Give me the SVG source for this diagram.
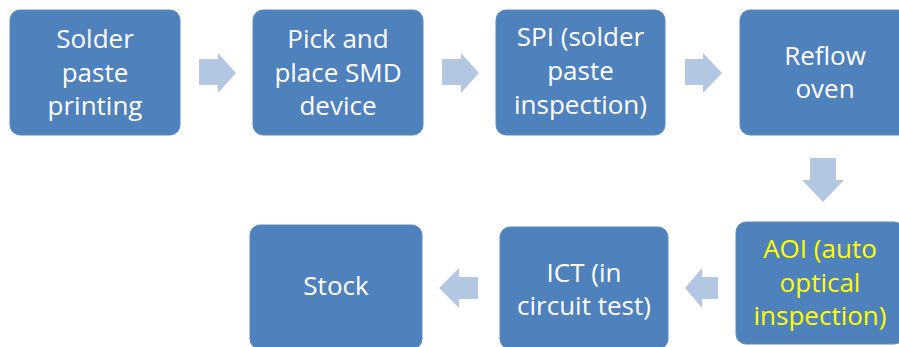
<svg xmlns="http://www.w3.org/2000/svg" width="899" height="347" viewBox="0 0 899 347">
  <style>
    .box { fill: #4F81BD; stroke: #5B8AC2; stroke-width: 1; }
    .lbl { font-family: "Open Sans", "Noto Sans", "Liberation Sans", sans-serif; font-size: 26px; fill: #FFFFFF; text-anchor: middle; }
    .hl { fill: #FFFF00; }
    .flow { fill: #B3C6E2; }
  </style>
  <rect width="899" height="347" fill="#FFFFFF"/>

  <g id="connectors">
    <!-- right-pointing block arrows, top row -->
    <polygon class="flow" points="199,59 218,59 218,53 236,73 218,93 218,85 199,85"/>
    <polygon class="flow" points="442,59 461,59 461,53 479,73 461,93 461,85 442,85"/>
    <polygon class="flow" points="685,59 703,59 703,53 722,73 703,93 703,85 685,85"/>
    <!-- down arrow into the second row -->
    <polygon class="flow" points="810,158 836,158 836,180 844,180 823,202 802,180 810,180"/>
    <!-- left-pointing block arrows, bottom row -->
    <polygon class="flow" points="718,277 702,277 702,268 685,288 702,308 702,299 718,299"/>
    <polygon class="flow" points="478,277 459,277 459,268 439,288 459,308 459,299 478,299"/>
  </g>

  <g id="solder-paste-printing">
    <rect class="box" x="10" y="10" width="170" height="125" rx="10"/>
    <text class="lbl" x="95" y="48">Solder</text>
    <text class="lbl" x="95" y="81.5">paste</text>
    <text class="lbl" x="95" y="115">printing</text>
  </g>

  <g id="pick-and-place">
    <rect class="box" x="253" y="10" width="170" height="125" rx="10"/>
    <text class="lbl" x="338" y="48">Pick and</text>
    <text class="lbl" x="338" y="81.5">place SMD</text>
    <text class="lbl" x="338" y="115">device</text>
  </g>

  <g id="spi">
    <rect class="box" x="496" y="10" width="169" height="125" rx="10"/>
    <text class="lbl" x="580.5" y="46">SPI (solder</text>
    <text class="lbl" x="580.5" y="80">paste</text>
    <text class="lbl" x="580.5" y="114">inspection)</text>
  </g>

  <g id="reflow-oven">
    <rect class="box" x="740" y="10" width="170" height="125" rx="10"/>
    <text class="lbl" x="825" y="65">Reflow</text>
    <text class="lbl" x="825" y="98">oven</text>
  </g>

  <g id="aoi">
    <rect class="box" x="736" y="222" width="168" height="122" rx="10"/>
    <text class="lbl hl" x="820" y="258">AOI (auto</text>
    <text class="lbl hl" x="820" y="292">optical</text>
    <text class="lbl hl" x="820" y="325">inspection)</text>
  </g>

  <g id="ict">
    <rect class="box" x="500" y="227" width="168" height="122" rx="10"/>
    <text class="lbl" x="584" y="282">ICT (in</text>
    <text class="lbl" x="584" y="315">circuit test)</text>
  </g>

  <g id="stock">
    <rect class="box" x="250" y="225" width="172" height="124" rx="10"/>
    <text class="lbl" x="336" y="295">Stock</text>
  </g>
</svg>
